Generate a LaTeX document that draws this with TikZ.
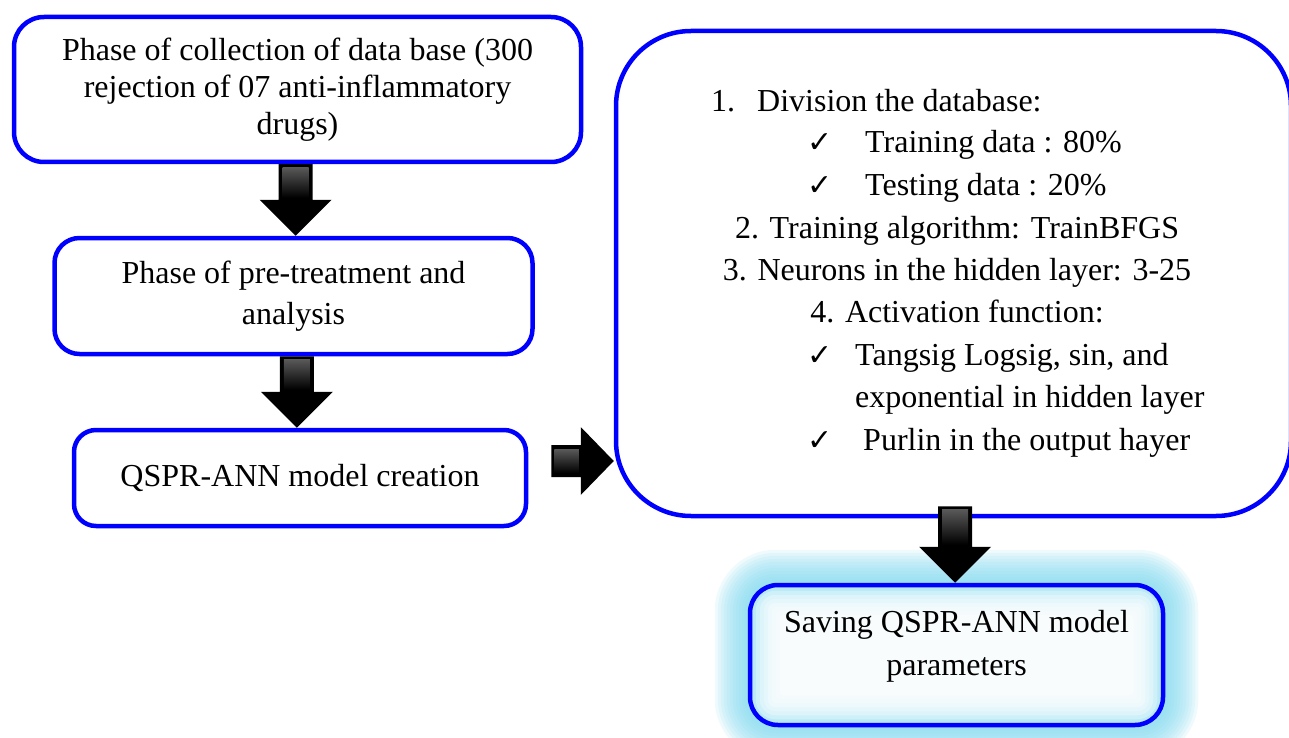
\documentclass[tikz,border=0pt]{standalone}
\usepackage{fontspec}
\setmainfont{Liberation Serif}
\newfontfamily\checkfont{DejaVu Sans}
\usetikzlibrary{calc}
\definecolor{boxblue}{RGB}{0,0,255}
\definecolor{glowcyan}{RGB}{130,220,242}
\pgfdeclarelayer{background}
\pgfsetlayers{background,main}

\tikzset{
  phase/.style={draw=boxblue, line width=4.5pt, align=center, inner sep=0pt},
  itemtxt/.style={anchor=base west, inner sep=0pt},
  midtxt/.style={anchor=base, inner sep=0pt},
  chk/.style={anchor=base west, inner sep=0pt, font=\checkfont\fontsize{30}{30}\selectfont},
}

% block arrow pointing down, optional overlap into the upper box
\newcommand{\blockdown}[3][0]{%
  \coordinate (bd-m) at ($(#2)!0.5!(#3)$);
  \coordinate (bd-s) at ($(bd-m |- #2)+(0,-#1)$);
  \coordinate (bd-e) at (bd-m |- #3);
  \fill[black] ($(bd-s)+(-17,0)$) -- ($(bd-s)+(17,0)$) -- ($(bd-e)+(17,-36)$)
    -- ($(bd-e)+(36,-36)$) -- (bd-e) -- ($(bd-e)+(-36,-36)$)
    -- ($(bd-e)+(-17,-36)$) -- cycle;
  \shade[top color=black!65, bottom color=black]
    ($(bd-s)+(-13,3)$) rectangle ($(bd-e)+(13,-38)$);
}

\begin{document}
\begin{tikzpicture}[x=1pt, y=-1pt, font=\fontsize{32}{42}\selectfont]
    \useasboundingbox (0,0) rectangle (1289,738);

    % --- left column ---
    \node[phase, minimum width=567pt, minimum height=145pt, rounded corners=30pt,
          font=\fontsize{32}{37}\selectfont] (collect) at (297.5,89.5)
          {Phase of collection of data base (300\\rejection of 07 anti-inflammatory\\drugs)};
    \node[phase, minimum width=478pt, minimum height=116pt, rounded corners=25pt,
          font=\fontsize{32}{41}\selectfont] (pretreat) at (293.5,296)
          {Phase of pre-treatment and\\analysis};
    \node[phase, minimum width=452pt, minimum height=96pt, rounded corners=22pt]
          (creation) at (300,478) {QSPR-ANN model creation};

    % --- right: settings box ---
    \node[phase, minimum width=675pt, minimum height=485pt, rounded corners=75pt]
          (settings) at (953.5,273.5) {};

    \node[itemtxt] (l1) at (711,112) {1.\hspace{22pt}Division the database:};
    \node[chk] (c2) at (807,153) {✓};
    \node[itemtxt] (l2) at (865,153) {Training data : 80\%};
    \node[chk] (c3) at (807,195) {✓};
    \node[itemtxt] (l3) at (865,195) {Testing data : 20\%};
    \node[midtxt] (l4) at (957,238) {2. Training algorithm: TrainBFGS};
    \node[midtxt] (l5) at (957,280) {3. Neurons in the hidden layer: 3-25};
    \node[midtxt] (l6) at (957,322) {4. Activation function:};
    \node[chk] (c7) at (807,365) {✓};
    \node[itemtxt] (l7) at (855,365) {Tangsig Logsig, sin, and};
    \node[itemtxt] (l8) at (855,407) {exponential in hidden layer};
    \node[chk] (c9) at (807,450) {✓};
    \node[itemtxt] (l9) at (863,450) {Purlin in the output hayer};

    % --- saving box with glow ---
    \node[phase, minimum width=413pt, minimum height=140pt, rounded corners=28pt]
          (save) at (956.5,655) {};
    \node[align=center, inner sep=0pt, font=\fontsize{32}{43}\selectfont]
          (savetxt) at ($(save.center)+(0,-9)$) {Saving QSPR-ANN model\\parameters};

    \begin{pgfonlayer}{background}
        \fill[white] (0,0) rectangle (1289,738);
        \foreach \d [evaluate=\d as \r using 28+\d] in {3,6,...,33}
            \fill[glowcyan, opacity=0.12, rounded corners=\r pt]
                ($(save.south west)+(-\d,\d)$) rectangle ($(save.north east)+(\d,-\d)$);
        \foreach \d [evaluate=\d as \r using {max(28-\d,4)}] in {4,8,...,32}
            \fill[white, opacity=0.3, rounded corners=\r pt]
                ($(save.south west)+(\d,-\d)$) rectangle ($(save.north east)+(-\d,\d)$);
    \end{pgfonlayer}

    % --- block arrows ---
    \blockdown{collect.south}{pretreat.north}
    \blockdown{pretreat.south}{creation.north}
    \blockdown[12]{settings.south}{save.north}

    \coordinate (r0) at ($(creation.east)+(23,-17)$);
    \coordinate (r1) at (settings.west |- r0);
    \fill[black] ($(r0)+(0,-16)$) -- ($(r1)+(-33,-16)$) -- ($(r1)+(-33,-34)$) -- (r1)
        -- ($(r1)+(-33,34)$) -- ($(r1)+(-33,16)$) -- ($(r0)+(0,16)$) -- cycle;
    \shade[top color=black!65, bottom color=black]
        ($(r0)+(3,-12)$) rectangle ($(r1)+(-35,12)$);

\end{tikzpicture}
\end{document}
